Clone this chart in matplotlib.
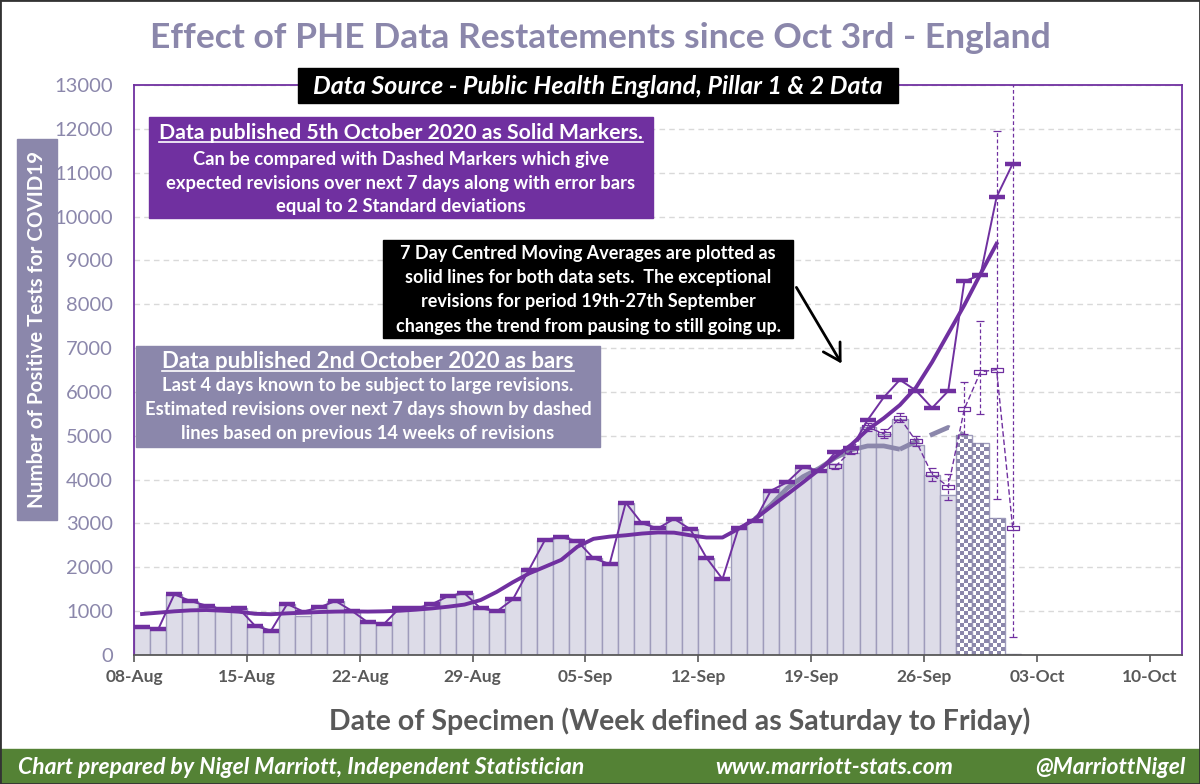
import matplotlib
matplotlib.use('Agg')
import matplotlib.pyplot as plt
import matplotlib.dates as mdates
from matplotlib.patches import Rectangle, FancyArrowPatch
from matplotlib.collections import PatchCollection
from matplotlib.lines import Line2D
import pandas as pd

plt.rcParams['font.family'] = ['Lato', 'DejaVu Sans']

# ---- data --------------------------------------------------------------------
dates = pd.date_range('2020-08-08', periods=55)          # 08-Aug .. 01-Oct

# published 2nd October (bars); last 4 days subject to large revisions
bars_2oct = [650, 586, 1384, 1231, 1125, 1041, 1064, 669, 555, 1163,
             900, 1087, 1231, 1010, 745, 707, 1079, 1064, 1163, 1345,
             1406, 1064, 995, 1269, 1945, 2630, 2684, 2600, 2205, 2075,
             3474, 3003, 2889, 3105, 2870, 2220, 1733, 2904, 3060, 3748,
             3938, 4284, 4204, 4352, 4600, 5192, 5032, 5380, 4795, 4095,
             3650, 5025, 4830, 3135, 30]
n_revising = 4

# published 5th October (solid markers)
markers_5oct = [650, 586, 1384, 1231, 1125, 1041, 1064, 669, 555, 1163,
                990, 1087, 1231, 1010, 745, 707, 1079, 1064, 1163, 1345,
                1406, 1064, 995, 1269, 1945, 2630, 2684, 2600, 2205, 2075,
                3474, 3003, 2889, 3105, 2870, 2220, 1733, 2904, 3060, 3748,
                3938, 4284, 4204, 4622, 4714, 5359, 5876, 6276, 6032, 5634,
                6020, 8524, 8665, 10445, 11204]

# 7 day centred moving average of 5th October data (08-Aug .. 30-Sep)
ma_5oct = [935, 965, 996, 1018, 1026, 1010, 988, 940, 930, 950,
           965, 980, 990, 995, 990, 996, 1010, 1034, 1064, 1102,
           1150, 1254, 1440, 1660, 1860, 2014, 2170, 2470, 2650, 2700,
           2730, 2770, 2795, 2790, 2730, 2680, 2680, 2880, 3100, 3380,
           3660, 3940, 4230, 4520, 4800, 5140, 5400, 5700, 6100, 6680,
           7330, 7980, 8690, 9380]

# 7 day centred moving average of 2nd October data (solid part, then estimated)
ma_2oct_dates = pd.date_range('2020-09-15', periods=10)   # 15-Sep .. 24-Sep
ma_2oct = [3100, 3420, 3800, 4068, 4258, 4500, 4677, 4768, 4768, 4692]
ma_est_dates = pd.date_range('2020-09-24', periods=5)     # 24-Sep .. 28-Sep
ma_est = [4692, 4870, 5030, 5190, 5010]

# expected revisions (dashed markers) with 2 SD error bars
est_dates = pd.date_range('2020-09-20', periods=12)       # 20-Sep .. 01-Oct
est_values = [4300, 4660, 5200, 5045, 5410, 4880, 4120, 3840, 5611, 6457, 6510, 2897]
est_err_low = [60, 80, 80, 100, 100, 120, 150, 305, 560, 960, 2960, 2480]
est_err_high = [60, 80, 80, 100, 100, 120, 150, 280, 620, 1150, 5450, 12000]

tick_dates = pd.date_range('2020-08-08', periods=10, freq='7D')
tick_labels = ['08-Aug', '15-Aug', '22-Aug', '29-Aug', '05-Sep',
               '12-Sep', '19-Sep', '26-Sep', '03-Oct', '10-Oct']
y_ticks = list(range(0, 13001, 1000))

# ---- colours ----------------------------------------------------------------
PURPLE = '#7030a0'
GREYP = '#8b87ab'
BARFILL = '#dddce8'
BAREDGE = '#9e9bbb'
DARK = '#595959'
GREEN = '#548235'

W, H = 1200, 784
fig = plt.figure(figsize=(W / 100, H / 100), dpi=100)


def fx(x):
    return x / W


def fy(y):
    return 1 - y / H


ax = fig.add_axes([fx(134), fy(655), (1182 - 134) / W, (655 - 85) / H])

x_day = mdates.date2num(dates)
half = 0.5
n = len(bars_2oct)

# bars
ax.bar(x_day[:n - n_revising], bars_2oct[:n - n_revising], width=1.0,
       align='edge', color=BARFILL, edgecolor=BAREDGE, linewidth=1, zorder=2)
revising = ax.bar(x_day[n - n_revising:], bars_2oct[n - n_revising:], width=1.0,
                  align='edge', color='white', edgecolor=BAREDGE, linewidth=1, zorder=2)

# checkered fill for the bars still to be revised (4 cells across each bar)
cell_y = 4 / 43.85 * 1000
cols = 4
squares = []
for patch in revising.patches:
    x0 = patch.get_x()
    h = patch.get_height()
    r = 0
    while r * cell_y < h:
        for c in range(cols):
            if (r + c) % 2 == 0:
                y0 = r * cell_y
                squares.append(Rectangle((x0 + c / cols, y0), 1 / cols,
                                         min(cell_y, h - y0)))
        r += 1
ax.add_collection(PatchCollection(squares, facecolor=GREYP, edgecolor='none', zorder=2.1))

# moving averages
ax.plot(mdates.date2num(ma_2oct_dates) + half, ma_2oct, color=GREYP, lw=3.4,
        solid_capstyle='butt', zorder=3)
ax.plot(mdates.date2num(ma_est_dates) + half, ma_est, color=GREYP, lw=3.4,
        linestyle=(0, (4.5, 2.5)), zorder=3)
ax.plot(x_day[:len(ma_5oct)] + half, ma_5oct, color=PURPLE, lw=2.8, zorder=4)

# 5th October data as solid markers joined by thin line
ax.plot(x_day + half, markers_5oct, color=PURPLE, lw=1.4, marker='_',
        markersize=11.5, markeredgewidth=3.2, zorder=5)

# expected revisions as dashed markers with error bars
x_est = mdates.date2num(est_dates) + half
ax.plot(x_est, est_values, color=PURPLE, lw=1.0, linestyle=(0, (4, 2)), zorder=5)
eb = ax.errorbar(x_est, est_values, yerr=[est_err_low, est_err_high], fmt='none',
                 ecolor=PURPLE, elinewidth=0.9, capsize=3, capthick=0.9, zorder=5)
eb.lines[2][0].set_linestyle((0, (3, 2)))
box_marker = [(-1, -0.3), (1, -0.3), (1, 0.3), (-1, 0.3), (-1, -0.3)]
ax.plot(x_est, est_values, linestyle='none', marker=box_marker, markersize=9,
        markerfacecolor='none', markeredgecolor=PURPLE, markeredgewidth=0.9, zorder=5)

# axes styling
ax.set_xlim(x_day[0], x_day[0] + 65)
ax.set_ylim(0, 13000)
ax.set_xticks(mdates.date2num(tick_dates))
ax.set_xticklabels(tick_labels, fontsize=12.5, fontweight='bold', color=DARK)
ax.set_yticks(y_ticks)
ax.set_yticklabels([str(v) for v in y_ticks], fontsize=14.5, color=GREYP)
ax.tick_params(axis='y', length=0, pad=15)
ax.tick_params(axis='x', length=5, width=1.2, color=DARK, pad=5)
ax.grid(axis='y', color='#d9d9d9', linestyle=(0, (4, 3)), linewidth=1, zorder=0)
ax.set_axisbelow(True)
for side in ['left', 'top', 'right']:
    ax.spines[side].set_color(PURPLE)
    ax.spines[side].set_linewidth(1.3)
ax.spines['bottom'].set_color(DARK)
ax.spines['bottom'].set_linewidth(1.3)

# ---- titles and labels -------------------------------------------------------
fig.text(fx(600), fy(38), 'Effect of PHE Data Restatements since Oct 3rd - England',
         ha='center', va='center', fontsize=25.5, fontweight='bold', color=GREYP)

fig.add_artist(Rectangle((fx(298), fy(103)), (898 - 298) / W, 35 / H,
                         transform=fig.transFigure, color='black', zorder=1))
fig.text(fx(598), fy(86), 'Data Source - Public Health England, Pillar 1 & 2 Data',
         ha='center', va='center', fontsize=18, fontweight='bold', style='italic',
         color='white', zorder=2)

fig.add_artist(Rectangle((fx(17), fy(520)), 40 / W, (520 - 139) / H,
                         transform=fig.transFigure, color=GREYP, zorder=1))
fig.text(fx(37), fy(329), 'Number of Positive Tests for COVID19', rotation=90,
         ha='center', va='center', fontsize=14.8, fontweight='bold', color='white', zorder=2)

fig.text(fx(680), fy(721), 'Date of Specimen (Week defined as Saturday to Friday)',
         ha='center', va='center', fontsize=20.5, fontweight='bold', color=DARK)

# annotation boxes
headings = []


def text_box(x0, y0, x1, y1, colour, lines, ys, heading_size, body_size, underline_first):
    fig.add_artist(Rectangle((fx(x0), fy(y1)), (x1 - x0) / W, (y1 - y0) / H,
                             transform=fig.transFigure, color=colour, zorder=1))
    cx = (x0 + x1) / 2
    for i, (line, y) in enumerate(zip(lines, ys)):
        size = heading_size if (i == 0 and underline_first) else body_size
        t = fig.text(fx(cx), fy(y), line, ha='center', va='center', fontsize=size,
                     fontweight='bold', color='white', zorder=2)
        if i == 0 and underline_first:
            headings.append(t)


text_box(149, 117, 653, 218, PURPLE,
         ['Data published 5th October 2020 as Solid Markers.',
          'Can be compared with Dashed Markers which give',
          'expected revisions over next 7 days along with error bars',
          'equal to 2 Standard deviations'],
         [133, 159, 183, 207], 15.3, 13.2, True)

text_box(383, 240, 793, 338, 'black',
         ['7 Day Centred Moving Averages are plotted as',
          'solid lines for both data sets.  The exceptional',
          'revisions for period 19th-27th September',
          'changes the trend from pausing to still going up.'],
         [254, 278, 302, 326], 13, 13, False)

text_box(136, 346, 600, 447, GREYP,
         ['Data published 2nd October 2020 as bars',
          'Last 4 days known to be subject to large revisions.',
          'Estimated revisions over next 7 days shown by dashed',
          'lines based on previous 14 weeks of revisions'],
         [361, 386, 410, 434], 16, 13.2, True)

# underline the box headings
fig.canvas.draw()
renderer = fig.canvas.get_renderer()
for t in headings:
    bb = t.get_window_extent(renderer)
    fig.add_artist(Line2D([bb.x0 / W, bb.x1 / W], [(bb.y0 + 1) / H, (bb.y0 + 1) / H],
                          transform=fig.transFigure, color='white', lw=1.2, zorder=2))

# arrow from the black box
fig.add_artist(FancyArrowPatch((fx(795), fy(285)), (fx(843), fy(366)),
                               transform=fig.transFigure,
                               arrowstyle='->,head_length=0.6,head_width=0.35',
                               mutation_scale=20, lw=2, color='black', zorder=3))

# ---- footer ------------------------------------------------------------------
fig.add_artist(Rectangle((0, 0), 1, fy(749), transform=fig.transFigure,
                         color=GREEN, zorder=1))
footer_style = dict(va='center', fontsize=16.5, fontweight='bold', style='italic',
                    color='white', zorder=2)
fig.text(fx(18), fy(767), 'Chart prepared by Nigel Marriott, Independent Statistician',
         ha='left', **footer_style)
fig.text(fx(834), fy(767), 'www.marriott-stats.com', ha='center', **footer_style)
fig.text(fx(1185), fy(767), '@MarriottNigel', ha='right', **footer_style)

fig.add_artist(Rectangle((0, 0), 1, 1, transform=fig.transFigure, fill=False,
                         edgecolor='#333333', lw=2, zorder=5))

fig.savefig('out.png', dpi=100)
